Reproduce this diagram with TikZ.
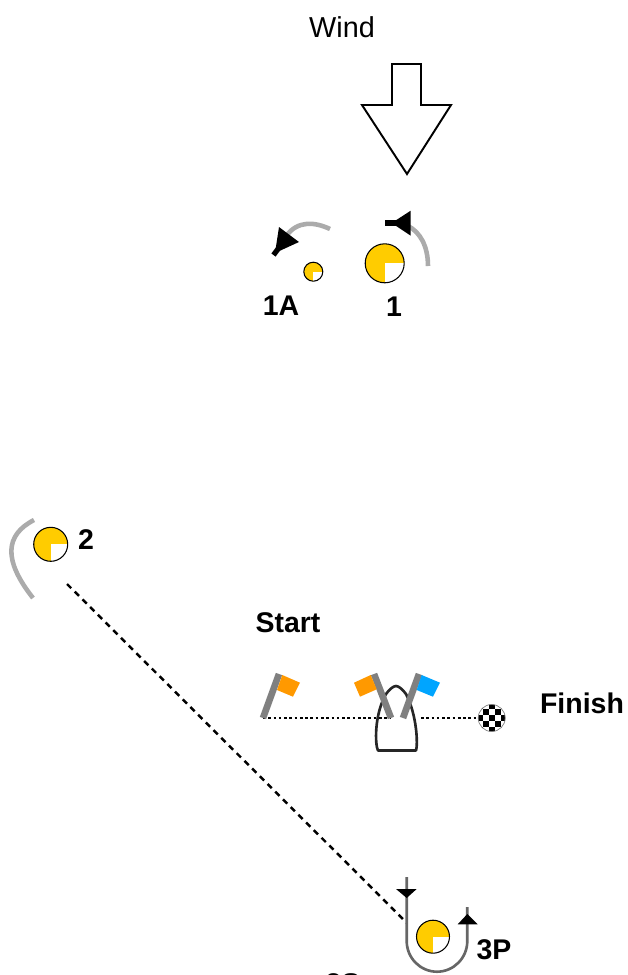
\documentclass[tikz,border=0pt]{standalone}
\usepackage{fontspec}
\setmainfont{Liberation Sans}
\usepackage{tikz}

\definecolor{markyellow}{HTML}{FFCC00}
\definecolor{flagorange}{HTML}{FF9900}
\definecolor{flagblue}{HTML}{00A5FF}
\definecolor{trackgray}{HTML}{ABABAB}
\definecolor{polegray}{HTML}{808080}

\begin{document}
\begin{tikzpicture}[x=0.02cm, y=-0.02cm]
    \tikzstyle{buoy} = [draw, line width=0.6pt, circle, fill=markyellow, inner sep=0pt,
	path picture={\fill[white] (path picture bounding box.center) rectangle (path picture bounding box.south east);}]
    \tikzstyle{label} = [inner sep=0pt, font=\fontsize{16.2}{18}\selectfont\bfseries]
    \tikzstyle{track} = [trackgray, line width=2.6pt]
    \tikzstyle{pole} = [polegray, line width=3.8pt]
    \tikzstyle{leg} = [black, line width=1.5pt, dash pattern=on 1.5pt off 1.5pt]
    \tikzstyle{uturn} = [black!60, line width=1.5pt]

	\useasboundingbox (0,0) rectangle (628,975);

	% wind
	\node[inner sep=0pt, font=\fontsize{16.4}{18}\selectfont] (wind) at (342,27) {Wind};
	\draw[line width=1.1pt] (392,64) -- (421,64) -- (421,105) -- (451,105) -- (407,174)
		-- (362,105) -- (392,105) -- cycle;

	% first marks
	\path
		node[buoy, minimum size=0.78cm] (b_1) at (384.7,263.3) {}
		node[buoy, minimum size=0.38cm] (b_1a) at (313.3,271.7) {}
		node[label] (l_1) at (394,307) {1}
		node[label] (l_1a) at (281,306) {1A};

	\coordinate (t_1a) at (428,266);
	\coordinate (t_1b) at (408,226);
	\draw[track] (t_1a) .. controls (428,246) and (420,232) .. (t_1b);
	\fill (410.7,210.7) -- (410.7,235.7) -- (391.7,223) -- cycle;
	\draw[line width=3pt] (385,223) -- (398,223);

	\coordinate (t_2a) at (330,229);
	\coordinate (t_2b) at (286,236);
	\draw[track] (t_2a) .. controls (315,222) and (298,220) .. (t_2b);
	\fill (279,227) -- (299,242) -- (275,253) -- cycle;
	\draw[line width=3pt] (273.5,255) -- (281,245);

	% second mark
	\path
		node[buoy, minimum size=0.68cm] (b_2) at (50.7,544.3) {}
		node[label] (l_2) at (86,540) {2};
	\coordinate (t_3a) at (34,520);
	\coordinate (t_3b) at (33,598);
	\draw[track] (t_3a) .. controls (5,535) and (3,560) .. (t_3b);

	\coordinate (g_1) at (67,584);
	\coordinate (g_2) at (407,923);
	\draw[leg, dash pattern=on 3.4pt off 2.8pt, line width=1.4pt] (g_1) -- (g_2);

	% start and finish
	\node[label] (l_s) at (288,623) {Start};
	\node[label] (l_f) at (582,703) {Finish};

	\coordinate (p_1) at (263,718);
	\coordinate (p_2) at (279,674);
	\coordinate (p_3) at (391,718);
	\coordinate (p_4) at (374,674);
	\coordinate (p_5) at (403,718);
	\coordinate (p_6) at (419,674);
	\coordinate (f_0) at (421,718);

	\node[circle, draw=black!50, line width=0.4pt, inner sep=0pt, minimum size=0.54cm, fill=white,
	path picture={
		\foreach \i in {-3,...,3}
			\foreach \j in {-3,...,3} {
				\pgfmathparse{int(mod(\i+\j+6,2))}
				\ifnum\pgfmathresult=0
					\fill[black] (\i*6-3,\j*6-3) rectangle +(6,6);
				\fi
			}
	}] (finish) at (491.7,718) {};

	\draw[leg] (p_1) -- (p_3);
	\draw[leg] (f_0) -- (finish);

	\draw[line width=1.5pt, black!85, line join=round]
		(378,750.5) .. controls (375,745) and (374,715) .. (386,694)
		.. controls (389,690) and (393,686) .. (396,686)
		.. controls (399,686) and (403,690) .. (406,694)
		.. controls (417,715) and (418,745) .. (416,750.5) -- cycle;

	\draw[pole] (p_1) -- (p_2);
	\draw[pole] (p_3) -- (p_4);
	\draw[pole] (p_5) -- (p_6);
	\fill[flagorange] (282.3,675) -- (300,682.7) -- (293,696.7) -- (277,690) -- cycle;
	\fill[flagorange] (354,682.7) -- (370.7,675) -- (376.7,689.3) -- (360,696.7) -- cycle;
	\fill[flagblue] (421.7,675) -- (440,682.7) -- (433,696.7) -- (416.7,690) -- cycle;

	% third mark
	\path
		node[buoy, minimum size=0.66cm] (b_3) at (433,936.7) {}
		node[label] (l_3p) at (494,950) {3P}
		node[label] (l_3s) at (343,984) {3S};

	\coordinate (u_1) at (406.7,877);
	\coordinate (u_2) at (467.3,907);
	\draw[uturn] (u_1) -- (406.7,941) arc[start angle=180, end angle=0, x radius=30.3, y radius=30.7] -- (u_2);
	\fill (396,889) -- (416.7,889) -- (406.7,898) -- cycle;
	\fill (457.7,924.3) -- (477.7,924.3) -- (467.3,914) -- cycle;
\end{tikzpicture}
\end{document}
